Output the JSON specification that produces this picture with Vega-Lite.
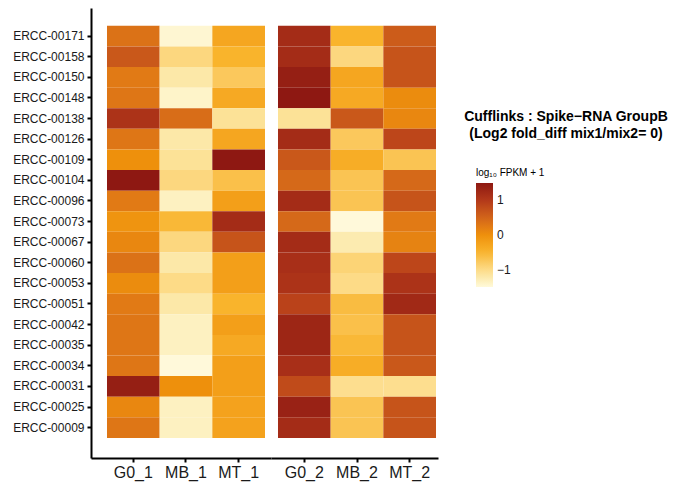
{
  "$schema": "https://vega.github.io/schema/vega-lite/v6.json",
  "padding": {"left": 12, "top": 8, "right": 5, "bottom": 5},
  "background": "white",
  "title": {
    "text": ["Cufflinks : Spike−RNA GroupB", "(Log2 fold_diff mix1/mix2= 0)"],
    "orient": "top",
    "anchor": "start",
    "align": "center",
    "frame": "group",
    "offset": -133,
    "dx": 475,
    "font": "Liberation Sans",
    "fontSize": 14,
    "fontWeight": "bold",
    "lineHeight": 17,
    "color": "#000"
  },
  "data": {"values": [
    {"gene":"ERCC-00171","sample":"G0_1","group":"1","value":0.35},{"gene":"ERCC-00171","sample":"MB_1","group":"1","value":-1.45},{"gene":"ERCC-00171","sample":"MT_1","group":"1","value":-0.3},{"gene":"ERCC-00171","sample":"G0_2","group":"2","value":1.2},{"gene":"ERCC-00171","sample":"MB_2","group":"2","value":-0.5},{"gene":"ERCC-00171","sample":"MT_2","group":"2","value":0.6},
    {"gene":"ERCC-00158","sample":"G0_1","group":"1","value":0.65},{"gene":"ERCC-00158","sample":"MB_1","group":"1","value":-0.95},{"gene":"ERCC-00158","sample":"MT_1","group":"1","value":-0.5},{"gene":"ERCC-00158","sample":"G0_2","group":"2","value":1.2},{"gene":"ERCC-00158","sample":"MB_2","group":"2","value":-0.95},{"gene":"ERCC-00158","sample":"MT_2","group":"2","value":0.7},
    {"gene":"ERCC-00150","sample":"G0_1","group":"1","value":0.25},{"gene":"ERCC-00150","sample":"MB_1","group":"1","value":-1.2},{"gene":"ERCC-00150","sample":"MT_1","group":"1","value":-0.75},{"gene":"ERCC-00150","sample":"G0_2","group":"2","value":1.4},{"gene":"ERCC-00150","sample":"MB_2","group":"2","value":-0.3},{"gene":"ERCC-00150","sample":"MT_2","group":"2","value":0.7},
    {"gene":"ERCC-00148","sample":"G0_1","group":"1","value":0.3},{"gene":"ERCC-00148","sample":"MB_1","group":"1","value":-1.4},{"gene":"ERCC-00148","sample":"MT_1","group":"1","value":-0.35},{"gene":"ERCC-00148","sample":"G0_2","group":"2","value":1.5},{"gene":"ERCC-00148","sample":"MB_2","group":"2","value":-0.35},{"gene":"ERCC-00148","sample":"MT_2","group":"2","value":0.05},
    {"gene":"ERCC-00138","sample":"G0_1","group":"1","value":1.1},{"gene":"ERCC-00138","sample":"MB_1","group":"1","value":0.4},{"gene":"ERCC-00138","sample":"MT_1","group":"1","value":-1.1},{"gene":"ERCC-00138","sample":"G0_2","group":"2","value":-1.1},{"gene":"ERCC-00138","sample":"MB_2","group":"2","value":0.65},{"gene":"ERCC-00138","sample":"MT_2","group":"2","value":0.1},
    {"gene":"ERCC-00126","sample":"G0_1","group":"1","value":0.3},{"gene":"ERCC-00126","sample":"MB_1","group":"1","value":-1.2},{"gene":"ERCC-00126","sample":"MT_1","group":"1","value":-0.3},{"gene":"ERCC-00126","sample":"G0_2","group":"2","value":1.2},{"gene":"ERCC-00126","sample":"MB_2","group":"2","value":-0.75},{"gene":"ERCC-00126","sample":"MT_2","group":"2","value":0.85},
    {"gene":"ERCC-00109","sample":"G0_1","group":"1","value":0.0},{"gene":"ERCC-00109","sample":"MB_1","group":"1","value":-1.1},{"gene":"ERCC-00109","sample":"MT_1","group":"1","value":1.5},{"gene":"ERCC-00109","sample":"G0_2","group":"2","value":0.65},{"gene":"ERCC-00109","sample":"MB_2","group":"2","value":-0.4},{"gene":"ERCC-00109","sample":"MT_2","group":"2","value":-0.7},
    {"gene":"ERCC-00104","sample":"G0_1","group":"1","value":1.5},{"gene":"ERCC-00104","sample":"MB_1","group":"1","value":-0.95},{"gene":"ERCC-00104","sample":"MT_1","group":"1","value":-0.65},{"gene":"ERCC-00104","sample":"G0_2","group":"2","value":0.45},{"gene":"ERCC-00104","sample":"MB_2","group":"2","value":-0.7},{"gene":"ERCC-00104","sample":"MT_2","group":"2","value":0.45},
    {"gene":"ERCC-00096","sample":"G0_1","group":"1","value":0.25},{"gene":"ERCC-00096","sample":"MB_1","group":"1","value":-1.35},{"gene":"ERCC-00096","sample":"MT_1","group":"1","value":-0.2},{"gene":"ERCC-00096","sample":"G0_2","group":"2","value":1.2},{"gene":"ERCC-00096","sample":"MB_2","group":"2","value":-0.7},{"gene":"ERCC-00096","sample":"MT_2","group":"2","value":0.7},
    {"gene":"ERCC-00073","sample":"G0_1","group":"1","value":-0.05},{"gene":"ERCC-00073","sample":"MB_1","group":"1","value":-0.55},{"gene":"ERCC-00073","sample":"MT_1","group":"1","value":1.2},{"gene":"ERCC-00073","sample":"G0_2","group":"2","value":0.45},{"gene":"ERCC-00073","sample":"MB_2","group":"2","value":-1.5},{"gene":"ERCC-00073","sample":"MT_2","group":"2","value":0.25},
    {"gene":"ERCC-00067","sample":"G0_1","group":"1","value":0.1},{"gene":"ERCC-00067","sample":"MB_1","group":"1","value":-0.95},{"gene":"ERCC-00067","sample":"MT_1","group":"1","value":0.7},{"gene":"ERCC-00067","sample":"G0_2","group":"2","value":1.2},{"gene":"ERCC-00067","sample":"MB_2","group":"2","value":-1.25},{"gene":"ERCC-00067","sample":"MT_2","group":"2","value":0.15},
    {"gene":"ERCC-00060","sample":"G0_1","group":"1","value":0.35},{"gene":"ERCC-00060","sample":"MB_1","group":"1","value":-1.2},{"gene":"ERCC-00060","sample":"MT_1","group":"1","value":-0.2},{"gene":"ERCC-00060","sample":"G0_2","group":"2","value":1.15},{"gene":"ERCC-00060","sample":"MB_2","group":"2","value":-0.9},{"gene":"ERCC-00060","sample":"MT_2","group":"2","value":0.85},
    {"gene":"ERCC-00053","sample":"G0_1","group":"1","value":0.05},{"gene":"ERCC-00053","sample":"MB_1","group":"1","value":-1.0},{"gene":"ERCC-00053","sample":"MT_1","group":"1","value":-0.2},{"gene":"ERCC-00053","sample":"G0_2","group":"2","value":1.1},{"gene":"ERCC-00053","sample":"MB_2","group":"2","value":-1.0},{"gene":"ERCC-00053","sample":"MT_2","group":"2","value":1.1},
    {"gene":"ERCC-00051","sample":"G0_1","group":"1","value":0.25},{"gene":"ERCC-00051","sample":"MB_1","group":"1","value":-1.2},{"gene":"ERCC-00051","sample":"MT_1","group":"1","value":-0.5},{"gene":"ERCC-00051","sample":"G0_2","group":"2","value":0.9},{"gene":"ERCC-00051","sample":"MB_2","group":"2","value":-0.6},{"gene":"ERCC-00051","sample":"MT_2","group":"2","value":1.25},
    {"gene":"ERCC-00042","sample":"G0_1","group":"1","value":0.3},{"gene":"ERCC-00042","sample":"MB_1","group":"1","value":-1.35},{"gene":"ERCC-00042","sample":"MT_1","group":"1","value":-0.2},{"gene":"ERCC-00042","sample":"G0_2","group":"2","value":1.3},{"gene":"ERCC-00042","sample":"MB_2","group":"2","value":-0.65},{"gene":"ERCC-00042","sample":"MT_2","group":"2","value":0.7},
    {"gene":"ERCC-00035","sample":"G0_1","group":"1","value":0.3},{"gene":"ERCC-00035","sample":"MB_1","group":"1","value":-1.35},{"gene":"ERCC-00035","sample":"MT_1","group":"1","value":-0.35},{"gene":"ERCC-00035","sample":"G0_2","group":"2","value":1.3},{"gene":"ERCC-00035","sample":"MB_2","group":"2","value":-0.55},{"gene":"ERCC-00035","sample":"MT_2","group":"2","value":0.7},
    {"gene":"ERCC-00034","sample":"G0_1","group":"1","value":0.3},{"gene":"ERCC-00034","sample":"MB_1","group":"1","value":-1.5},{"gene":"ERCC-00034","sample":"MT_1","group":"1","value":-0.2},{"gene":"ERCC-00034","sample":"G0_2","group":"2","value":1.15},{"gene":"ERCC-00034","sample":"MB_2","group":"2","value":-0.4},{"gene":"ERCC-00034","sample":"MT_2","group":"2","value":0.65},
    {"gene":"ERCC-00031","sample":"G0_1","group":"1","value":1.4},{"gene":"ERCC-00031","sample":"MB_1","group":"1","value":0.0},{"gene":"ERCC-00031","sample":"MT_1","group":"1","value":-0.2},{"gene":"ERCC-00031","sample":"G0_2","group":"2","value":0.8},{"gene":"ERCC-00031","sample":"MB_2","group":"2","value":-1.05},{"gene":"ERCC-00031","sample":"MT_2","group":"2","value":-1.05},
    {"gene":"ERCC-00025","sample":"G0_1","group":"1","value":0.1},{"gene":"ERCC-00025","sample":"MB_1","group":"1","value":-1.35},{"gene":"ERCC-00025","sample":"MT_1","group":"1","value":-0.25},{"gene":"ERCC-00025","sample":"G0_2","group":"2","value":1.35},{"gene":"ERCC-00025","sample":"MB_2","group":"2","value":-0.7},{"gene":"ERCC-00025","sample":"MT_2","group":"2","value":0.7},
    {"gene":"ERCC-00009","sample":"G0_1","group":"1","value":0.3},{"gene":"ERCC-00009","sample":"MB_1","group":"1","value":-1.35},{"gene":"ERCC-00009","sample":"MT_1","group":"1","value":-0.25},{"gene":"ERCC-00009","sample":"G0_2","group":"2","value":1.2},{"gene":"ERCC-00009","sample":"MB_2","group":"2","value":-0.7},{"gene":"ERCC-00009","sample":"MT_2","group":"2","value":0.7}
  ]},
  "spacing": 0,
  "bounds": "flush",
  "resolve": {"scale": {"color": "shared", "x": "independent", "y": "independent"}},
  "config": {
    "view": {"stroke": null},
    "font": "Liberation Sans",
    "axis": {
      "domainColor": "#000", "domainWidth": 2, "tickColor": "#000", "tickWidth": 2, "tickSize": 4,
      "grid": false, "title": null, "labelFont": "Liberation Sans", "labelColor": "#1a1a1a"
    }
  },
  "hconcat": [
    {
      "width": 180, "height": 450,
      "transform": [{"filter": "datum.group === '1'"}],
      "mark": {"type": "rect"},
      "encoding": {
        "x": {"field": "sample", "type": "nominal",
          "scale": {"domain": ["G0_1","MB_1","MT_1"], "paddingInner": 0, "paddingOuter": 0.2089, "align": 0.727},
          "axis": {"labelAngle": 0, "labelFontSize": 16, "labelPadding": 2,
            "encode": {"labels": {"update": {"dy": {"signal": "datum.value === 'MT_1' ? 8 : 0"}}}}}},
        "y": {"field": "gene", "type": "nominal",
          "scale": {"domain": ["ERCC-00171","ERCC-00158","ERCC-00150","ERCC-00148","ERCC-00138","ERCC-00126","ERCC-00109","ERCC-00104","ERCC-00096","ERCC-00073","ERCC-00067","ERCC-00060","ERCC-00053","ERCC-00051","ERCC-00042","ERCC-00035","ERCC-00034","ERCC-00031","ERCC-00025","ERCC-00009"],
            "paddingInner": 0, "paddingOuter": 0.92, "align": 0.47},
          "axis": {"labelFontSize": 12, "labelPadding": 3}},
        "color": {"field": "value", "type": "quantitative",
          "scale": {"domain": [-1.5,-1,-0.5,0,0.5,1,1.5], "range": ["#FFF9DA","#FDDB87","#F9B42C","#EE900C","#D2651A","#B3391A","#8E1812"], "clamp": true},
          "legend": {"orient": "none", "legendX": 385, "legendY": 160, "title": "log₁₀ FPKM + 1", "titleFont": "Liberation Sans", "titleFontSize": 10, "titleFontWeight": "normal", "titleColor": "#000", "titlePadding": 5,
            "values": [-1, 0, 1], "labelFont": "Liberation Sans", "labelFontSize": 12, "labelColor": "#1a1a1a", "gradientLength": 104, "gradientThickness": 17, "gradientStrokeWidth": 0, "labelOffset": 4}}
      }
    },
    {
      "width": 167, "height": 450,
      "transform": [{"filter": "datum.group === '2'"}],
      "mark": {"type": "rect"},
      "encoding": {
        "x": {"field": "sample", "type": "nominal",
          "scale": {"domain": ["G0_2","MB_2","MT_2"], "paddingInner": 0, "paddingOuter": 0.0854, "align": 0.778},
          "axis": {"labelAngle": 0, "labelFontSize": 16, "labelPadding": 2,
            "encode": {"labels": {"update": {"dy": {"signal": "datum.value === 'G0_2' ? 7 : datum.value === 'MB_2' ? 8 : -1"}}}}}},
        "y": {"field": "gene", "type": "nominal",
          "scale": {"domain": ["ERCC-00171","ERCC-00158","ERCC-00150","ERCC-00148","ERCC-00138","ERCC-00126","ERCC-00109","ERCC-00104","ERCC-00096","ERCC-00073","ERCC-00067","ERCC-00060","ERCC-00053","ERCC-00051","ERCC-00042","ERCC-00035","ERCC-00034","ERCC-00031","ERCC-00025","ERCC-00009"],
            "paddingInner": 0, "paddingOuter": 0.92, "align": 0.47},
          "axis": null},
        "color": {"field": "value", "type": "quantitative"}
      }
    }
  ]
}
